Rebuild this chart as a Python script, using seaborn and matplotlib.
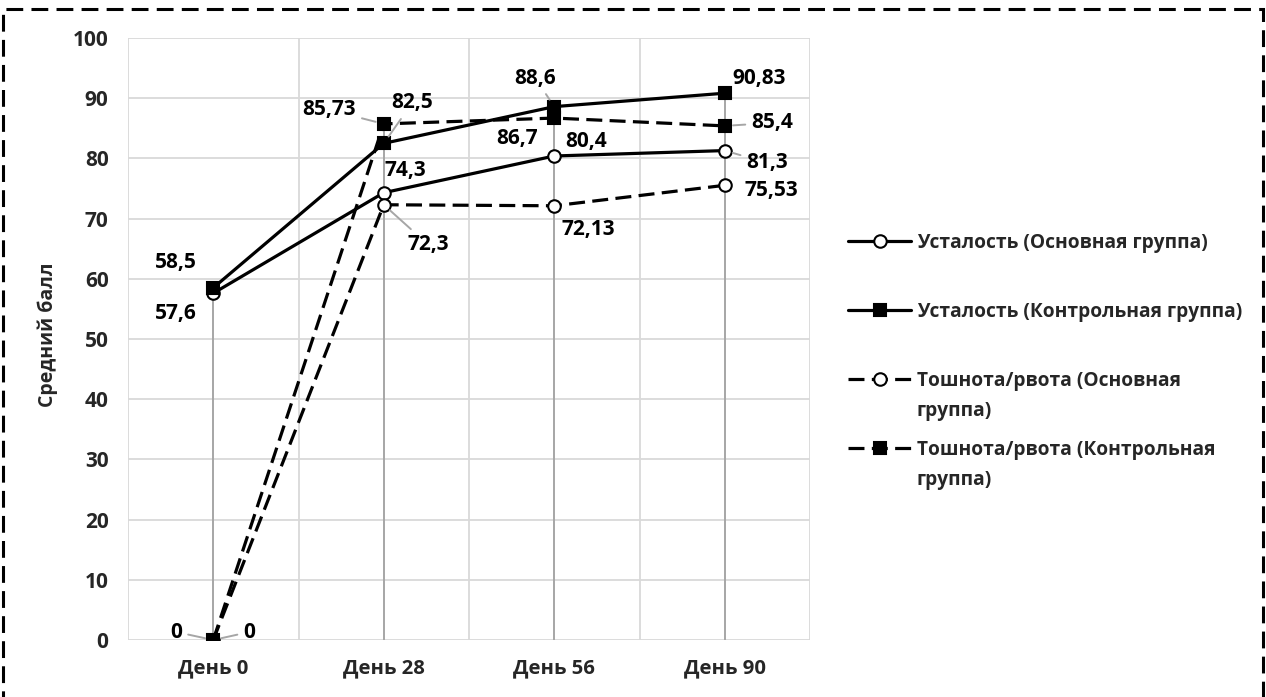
import matplotlib
matplotlib.use("Agg")
import matplotlib.pyplot as plt
from matplotlib.lines import Line2D
from matplotlib.patches import Rectangle
import seaborn as sns
import pandas as pd

# ---- data ----
days = ["День 0", "День 28", "День 56", "День 90"]
fatigue_main = [57.6, 74.3, 80.4, 81.3]
fatigue_ctrl = [58.5, 82.5, 88.6, 90.83]
nausea_main = [0, 72.3, 72.13, 75.53]
nausea_ctrl = [0, 85.73, 86.7, 85.4]
series_names = ["Усталость (Основная группа)",
                "Усталость (Контрольная группа)",
                "Тошнота/рвота (Основная группа)",
                "Тошнота/рвота (Контрольная группа)"]
# legend label split points (first line / wrapped remainder)
legend_first = ["Усталость (Основная группа)",
                "Усталость (Контрольная группа)",
                "Тошнота/рвота (Основная",
                "Тошнота/рвота (Контрольная"]
legend_rest = ["", "", "группа)", "группа)"]
y_label = "Средний балл"

# label offsets in pixels (dx right, dy up), and leader flags
label_offsets = [
    [(-37, -20), (21.5, 22.7), (32, 14), (42.5, -12.4)],
    [(-37, 25), (28.5, 40.4), (-19, 28.6), (34.5, 15.2)],
    [(36, 8), (44.5, -40), (34, -24), (46.5, -4.7)],
    [(-37, 8), (-54.5, 14), (-37, -20), (47.5, 3)],
]
leaders = [
    [False, False, False, True],
    [False, True, True, False],
    [True, True, False, False],
    [True, True, False, True],
]

sns.set_theme(style="white")
FONT = ["Open Sans", "DejaVu Sans"]
plt.rcParams["font.family"] = FONT
plt.rcParams["font.weight"] = "bold"
FS_NUM = 15
FS_X = 14.6
FS_LEG = 13.8

fig = plt.figure(figsize=(12.66, 6.97), dpi=100)
ax = fig.add_axes([128 / 1266, 57 / 697, 682 / 1266, 602 / 697])

all_series = [fatigue_main, fatigue_ctrl, nausea_main, nausea_ctrl]
styles = [
    dict(marker="o", markerfacecolor="white", linestyle="-"),
    dict(marker="s", markerfacecolor="black", linestyle="-"),
    dict(marker="o", markerfacecolor="white", linestyle=(0, (5, 2.3))),
    dict(marker="s", markerfacecolor="black", linestyle=(0, (5, 2.3))),
]
msizes = [9, 8, 9, 8]

# drop lines
maxvals = [max(v) for v in zip(*all_series)]
ax.vlines(range(len(days)), 0, maxvals, color="#a6a6a6", lw=1.4, zorder=2)

for name, vals, st, ms in zip(series_names, all_series, styles, msizes):
    df = pd.DataFrame({"day": days, "val": vals})
    sns.lineplot(data=df, x="day", y="val", ax=ax, color="black", lw=2.3,
                 markersize=ms, markeredgecolor="black", markeredgewidth=1.5,
                 sort=False, zorder=3, **st)

# data labels
for si, vals in enumerate(all_series):
    for i, v in enumerate(vals):
        dx, dy = label_offsets[si][i]
        txt = f"{v:g}".replace(".", ",")
        ap = None
        if leaders[si][i]:
            ap = dict(arrowstyle="-", color="#a6a6a6", lw=1.4, shrinkA=2, shrinkB=6)
        ax.annotate(txt, (i, v), xytext=(dx, dy), textcoords="offset pixels",
                    ha="center", va="center", fontsize=FS_NUM, fontweight="bold",
                    color="black", arrowprops=ap, zorder=5)

ax.set_xlim(-0.5, len(days) - 0.5)
ax.set_ylim(0, 100)
ax.set_yticks(range(0, 101, 10))
ax.set_xticks(range(len(days)))
ax.set_xticklabels(days)
ax.set_xticks([i - 0.5 for i in range(len(days) + 1)], minor=True)
ax.grid(axis="y", which="major", color="#d9d9d9", lw=1.3)
ax.grid(axis="x", which="minor", color="#d9d9d9", lw=1.3)
ax.grid(axis="x", which="major", visible=False)
ax.set_axisbelow(True)
for s in ax.spines.values():
    s.set_visible(False)
ax.tick_params(axis="both", which="both", length=0)
ax.tick_params(axis="y", pad=14, labelsize=FS_NUM)
ax.tick_params(axis="x", pad=13, labelsize=FS_X)
for lab in ax.get_xticklabels() + ax.get_yticklabels():
    lab.set_fontweight("bold")
ax.set_xlabel("")
ax.set_ylabel(y_label, fontsize=14, fontweight="bold")
ax.yaxis.set_label_coords(-0.103, 0.507)

# legend
handles = []
for st, ms in zip(styles, msizes):
    handles.append(Line2D([], [], color="black", lw=2.3, marker=st["marker"],
                          markerfacecolor=st["markerfacecolor"], markeredgecolor="black",
                          markeredgewidth=1.5, markersize=ms, linestyle=st["linestyle"]))
leg = fig.legend(handles, legend_first, loc="upper left",
                 bbox_to_anchor=(848 / 1266, 1 - 233 / 697), frameon=False,
                 fontsize=FS_LEG, handlelength=3.3, handletextpad=0.3,
                 labelspacing=2.56, borderpad=0, borderaxespad=0)
for t in leg.get_texts():
    t.set_fontweight("bold")

# wrapped continuation lines of legend labels
fig.canvas.draw()
for t, rest in zip(leg.get_texts(), legend_rest):
    if rest:
        bb = t.get_window_extent()
        yc = (bb.y0 + bb.y1) / 2 - 30
        fig.text(bb.x0 / fig.bbox.width, yc / fig.bbox.height, rest,
                 ha="left", va="center", fontsize=FS_LEG, fontweight="bold",
                 color=t.get_color())

# dashed figure border
fig.patches.append(Rectangle((3 / 1266, -0.05), 1260 / 1266, 0.05 + 1 - 9 / 697,
                             transform=fig.transFigure, fill=False, edgecolor="black",
                             lw=2.2, linestyle=(0, (5.5, 2.7)), zorder=10))

fig.savefig("out.png", dpi=100)
